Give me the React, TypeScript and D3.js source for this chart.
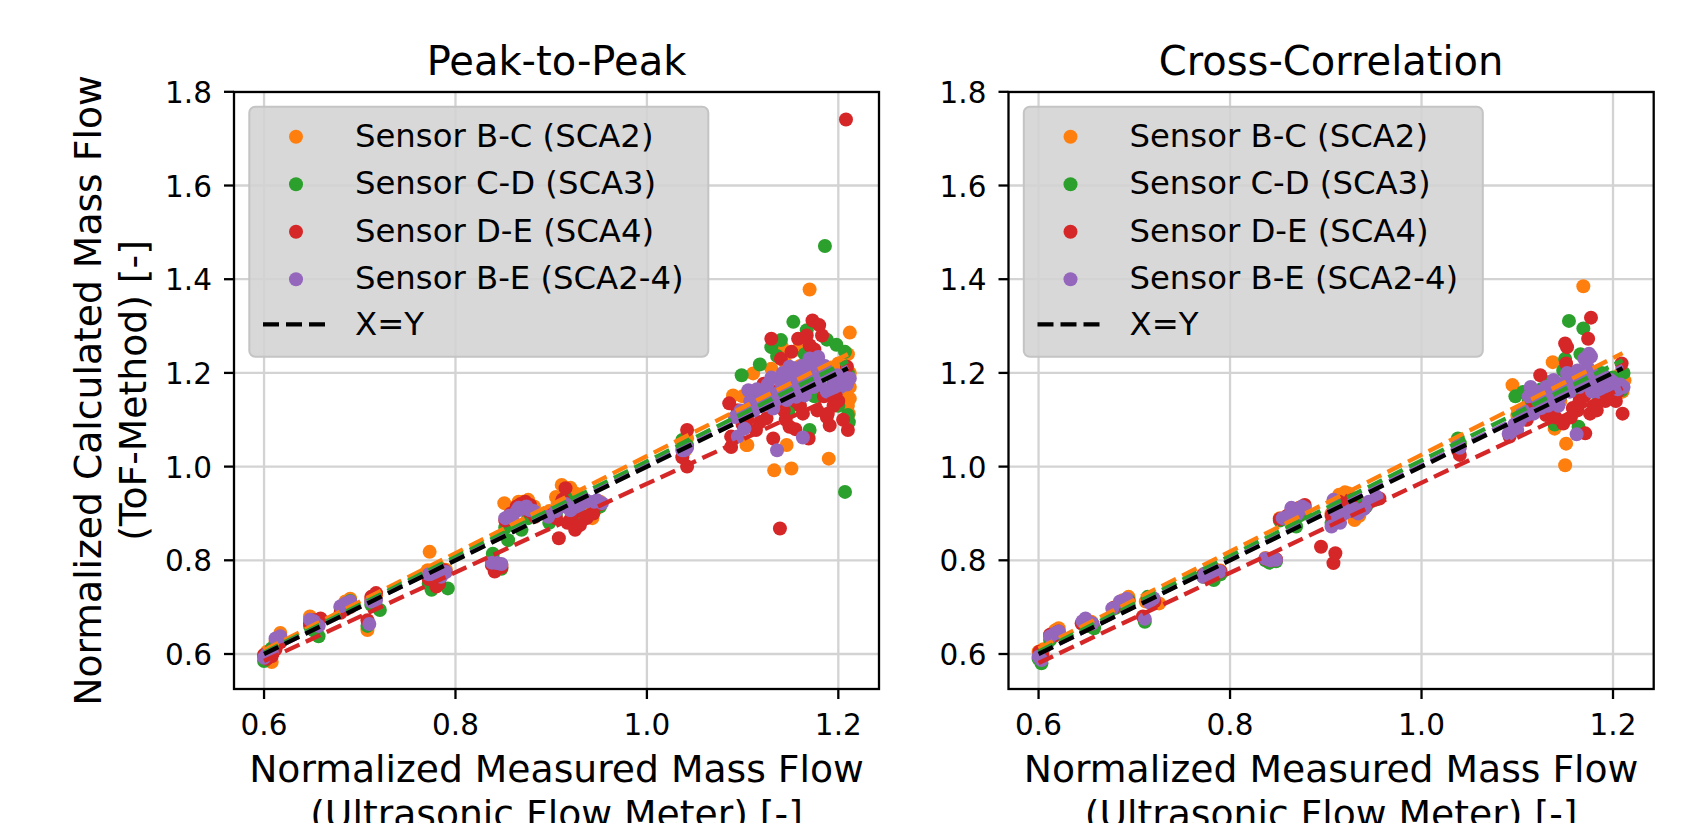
import React from 'react';
import * as d3 from 'd3';

type Pt = [number, number];

const SENSOR_LABELS = ['Sensor B-C (SCA2)', 'Sensor C-D (SCA3)', 'Sensor D-E (SCA4)', 'Sensor B-E (SCA2-4)'];
const SENSOR_COLORS = ['#ff7f0e', '#2ca02c', '#d62728', '#9467bd'];
const IDENTITY_LABEL = 'X=Y';
const PANEL_TITLES = ['Peak-to-Peak', 'Cross-Correlation'];
const X_LABEL = ['Normalized Measured Mass Flow', '(Ultrasonic Flow Meter) [-]'];
const Y_LABEL = ['Normalized Calculated Mass Flow', '(ToF-Method) [-]'];
const X_TICKS = [0.6, 0.8, 1.0, 1.2];
const Y_TICKS = [0.6, 0.8, 1.0, 1.2, 1.4, 1.6, 1.8];
const X_DOMAIN: [number, number] = [0.5686, 1.2425];
const Y_DOMAIN: [number, number] = [0.5253, 1.7996];
const FIT_RANGE: [number, number] = [0.6, 1.21];

// ---------- Peak-to-Peak ----------
const p2pSCA2: Pt[] = [
  [0.600, 0.598], [0.603, 0.605], [0.608, 0.583], [0.612, 0.628], [0.617, 0.645],
  [0.648, 0.680], [0.652, 0.668], [0.657, 0.662],
  [0.680, 0.700], [0.685, 0.712], [0.690, 0.718],
  [0.708, 0.651], [0.712, 0.715], [0.717, 0.725],
  [0.771, 0.779], [0.773, 0.818], [0.783, 0.785], [0.790, 0.780],
  [0.838, 0.800], [0.843, 0.795], [0.848, 0.790],
  [0.851, 0.922], [0.858, 0.905], [0.864, 0.915], [0.866, 0.925], [0.870, 0.925], [0.876, 0.929],
  [0.880, 0.910], [0.882, 0.915],
  [0.898, 0.905], [0.905, 0.935], [0.911, 0.961], [0.917, 0.950], [0.920, 0.955], [0.925, 0.943],
  [0.930, 0.935], [0.934, 0.930], [0.937, 0.920], [0.943, 0.890], [0.947, 0.910], [0.951, 0.925],
  [1.037, 1.045], [1.040, 1.035], [1.042, 1.060],
  [1.090, 1.152], [1.095, 1.120], [1.100, 1.150], [1.104, 1.046], [1.105, 1.046], [1.111, 1.199],
  [1.118, 1.142], [1.120, 1.160], [1.125, 1.175], [1.130, 1.209], [1.133, 0.992], [1.138, 1.150],
  [1.141, 1.256], [1.145, 1.220], [1.146, 1.046], [1.150, 1.150], [1.151, 0.996], [1.155, 1.190],
  [1.158, 1.250], [1.160, 1.215], [1.165, 1.170], [1.170, 1.378], [1.175, 1.200], [1.178, 1.230],
  [1.183, 1.160], [1.188, 1.205], [1.190, 1.017], [1.196, 1.174], [1.200, 1.220], [1.205, 1.195],
  [1.209, 1.163], [1.211, 1.113], [1.212, 1.286], [1.212, 1.145], [1.210, 1.240], [1.212, 1.200],
  [1.212, 1.170], [1.210, 1.130],
];
const p2pSCA3: Pt[] = [
  [0.600, 0.585], [0.603, 0.598], [0.608, 0.612], [0.612, 0.622], [0.617, 0.630],
  [0.648, 0.660], [0.652, 0.650], [0.657, 0.638],
  [0.680, 0.698], [0.685, 0.705], [0.690, 0.713],
  [0.708, 0.660], [0.712, 0.705], [0.721, 0.694],
  [0.772, 0.750], [0.775, 0.737], [0.783, 0.760], [0.792, 0.740],
  [0.839, 0.814], [0.843, 0.790], [0.848, 0.782],
  [0.852, 0.870], [0.855, 0.843], [0.864, 0.875], [0.869, 0.865], [0.876, 0.890], [0.882, 0.895],
  [0.898, 0.880], [0.905, 0.900], [0.911, 0.925], [0.917, 0.935], [0.923, 0.915], [0.930, 0.925],
  [0.934, 0.893], [0.944, 0.905], [0.951, 0.915],
  [1.037, 1.057], [1.040, 1.040], [1.042, 1.045],
  [1.099, 1.195], [1.100, 1.110], [1.108, 1.130], [1.115, 1.160], [1.118, 1.218], [1.125, 1.150],
  [1.130, 1.255], [1.136, 1.236], [1.140, 1.270], [1.142, 1.170], [1.148, 1.120], [1.150, 1.180],
  [1.153, 1.309], [1.160, 1.200], [1.165, 1.240], [1.167, 1.291], [1.170, 1.078], [1.175, 1.150],
  [1.180, 1.220], [1.185, 1.200], [1.186, 1.471], [1.188, 1.271], [1.195, 1.180], [1.198, 1.260],
  [1.200, 1.130], [1.207, 1.245], [1.207, 0.946], [1.211, 1.095], [1.210, 1.200], [1.210, 1.110],
];
const p2pSCA4: Pt[] = [
  [0.600, 0.598], [0.603, 0.590], [0.608, 0.595], [0.612, 0.610], [0.617, 0.625],
  [0.648, 0.665], [0.652, 0.672], [0.659, 0.676],
  [0.680, 0.688], [0.685, 0.695], [0.690, 0.700],
  [0.708, 0.672], [0.712, 0.722], [0.717, 0.730],
  [0.772, 0.760], [0.780, 0.744], [0.783, 0.750], [0.788, 0.779],
  [0.838, 0.790], [0.841, 0.776], [0.848, 0.785],
  [0.852, 0.885], [0.858, 0.900], [0.864, 0.915], [0.868, 0.920], [0.873, 0.925], [0.876, 0.905],
  [0.878, 0.918], [0.883, 0.893],
  [0.901, 0.897], [0.905, 0.890], [0.908, 0.847], [0.912, 0.930], [0.915, 0.954], [0.917, 0.880],
  [0.921, 0.890], [0.925, 0.865], [0.930, 0.875], [0.937, 0.890], [0.944, 0.900], [0.951, 0.920],
  [1.037, 1.020], [1.042, 1.000], [1.042, 1.078],
  [1.086, 1.135], [1.088, 1.042], [1.088, 1.064], [1.095, 1.120], [1.100, 1.090], [1.105, 1.100],
  [1.114, 1.078], [1.118, 1.095], [1.122, 1.177], [1.125, 1.103], [1.128, 1.140], [1.130, 1.273],
  [1.132, 1.060], [1.135, 1.160], [1.139, 0.868], [1.140, 1.230], [1.143, 1.120], [1.145, 1.100],
  [1.149, 1.085], [1.151, 1.245], [1.152, 1.160], [1.155, 1.140], [1.155, 1.080], [1.158, 1.273],
  [1.160, 1.130], [1.163, 1.113], [1.165, 1.200], [1.167, 1.280], [1.169, 1.060], [1.170, 1.259],
  [1.173, 1.312], [1.175, 1.250], [1.178, 1.120], [1.180, 1.302], [1.183, 1.280], [1.185, 1.150],
  [1.188, 1.106], [1.189, 1.113], [1.191, 1.088], [1.195, 1.130], [1.200, 1.140], [1.205, 1.100],
  [1.208, 1.741], [1.209, 1.213], [1.210, 1.078],
];
const p2pSCA24: Pt[] = [
  [0.600, 0.592], [0.603, 0.600], [0.608, 0.605], [0.612, 0.633], [0.617, 0.638],
  [0.648, 0.673], [0.652, 0.670], [0.657, 0.660],
  [0.680, 0.702], [0.685, 0.708], [0.690, 0.712],
  [0.710, 0.664], [0.712, 0.712], [0.717, 0.715],
  [0.772, 0.770], [0.778, 0.769], [0.785, 0.765], [0.790, 0.775],
  [0.838, 0.795], [0.843, 0.794], [0.848, 0.792],
  [0.852, 0.890], [0.856, 0.895], [0.859, 0.890], [0.864, 0.905], [0.866, 0.912], [0.870, 0.910],
  [0.874, 0.915], [0.878, 0.907], [0.882, 0.905],
  [0.897, 0.893], [0.905, 0.905], [0.911, 0.915], [0.915, 0.920], [0.920, 0.907], [0.925, 0.912],
  [0.930, 0.918], [0.935, 0.930], [0.939, 0.925], [0.945, 0.925], [0.948, 0.928], [0.953, 0.922],
  [1.037, 1.035], [1.039, 1.035], [1.042, 1.040],
  [1.092, 1.106], [1.095, 1.064], [1.098, 1.120], [1.102, 1.081], [1.106, 1.163], [1.108, 1.140],
  [1.112, 1.120], [1.115, 1.165], [1.118, 1.140], [1.120, 1.130], [1.123, 1.159], [1.126, 1.175],
  [1.128, 1.150], [1.130, 1.190], [1.132, 1.124], [1.134, 1.140], [1.136, 1.156], [1.136, 1.035],
  [1.140, 1.180], [1.142, 1.200], [1.144, 1.160], [1.146, 1.142], [1.149, 1.213], [1.150, 1.185],
  [1.152, 1.170], [1.154, 1.210], [1.156, 1.149], [1.158, 1.175], [1.160, 1.190], [1.162, 1.215],
  [1.163, 1.062], [1.165, 1.152], [1.166, 1.190], [1.168, 1.205], [1.170, 1.231], [1.172, 1.215],
  [1.174, 1.170], [1.176, 1.225], [1.177, 1.188], [1.179, 1.234], [1.181, 1.175], [1.184, 1.200],
  [1.186, 1.215], [1.188, 1.160], [1.191, 1.199], [1.193, 1.165], [1.196, 1.180], [1.199, 1.195],
  [1.202, 1.170], [1.204, 1.180], [1.207, 1.190], [1.209, 1.175], [1.212, 1.188],
];
// linear fits [slope, intercept]
const p2pFits: Pt[] = [[1.036, -0.0136], [1.0197, -0.0088], [0.946, 0.0174], [1.005, -0.003]];

// ---------- Cross-Correlation ----------
const ccSCA2: Pt[] = [
  [0.600, 0.605], [0.605, 0.610], [0.612, 0.640], [0.617, 0.650], [0.621, 0.655],
  [0.648, 0.670], [0.652, 0.668], [0.655, 0.669],
  [0.680, 0.700], [0.688, 0.715], [0.694, 0.722],
  [0.712, 0.712], [0.720, 0.715], [0.726, 0.708],
  [0.772, 0.770], [0.778, 0.775], [0.785, 0.780], [0.790, 0.778],
  [0.837, 0.805], [0.843, 0.800], [0.848, 0.802],
  [0.852, 0.890], [0.860, 0.895], [0.867, 0.905], [0.872, 0.912], [0.878, 0.910],
  [0.906, 0.900], [0.914, 0.940], [0.918, 0.935], [0.920, 0.945], [0.923, 0.943], [0.930, 0.886],
  [0.935, 0.895], [0.936, 0.905], [0.942, 0.920], [0.953, 0.932],
  [1.038, 1.052], [1.040, 1.045],
  [1.095, 1.174], [1.100, 1.110], [1.108, 1.120], [1.115, 1.135], [1.122, 1.150], [1.128, 1.140],
  [1.130, 1.160], [1.137, 1.223], [1.139, 1.081], [1.142, 1.165], [1.145, 1.140], [1.150, 1.003],
  [1.151, 1.049], [1.155, 1.170], [1.160, 1.180], [1.162, 1.200], [1.165, 1.150], [1.169, 1.385],
  [1.172, 1.160], [1.175, 1.200], [1.182, 1.170], [1.185, 1.190], [1.190, 1.190], [1.195, 1.150],
  [1.198, 1.160], [1.205, 1.190], [1.208, 1.200], [1.212, 1.184], [1.210, 1.160],
];
const ccSCA3: Pt[] = [
  [0.600, 0.590], [0.603, 0.580], [0.612, 0.630], [0.617, 0.640], [0.621, 0.645],
  [0.648, 0.665], [0.652, 0.660], [0.658, 0.655],
  [0.680, 0.698], [0.688, 0.710], [0.694, 0.715],
  [0.711, 0.669], [0.714, 0.722], [0.720, 0.712],
  [0.772, 0.765], [0.778, 0.768], [0.783, 0.758], [0.790, 0.770],
  [0.837, 0.800], [0.841, 0.795], [0.848, 0.798],
  [0.852, 0.885], [0.860, 0.888], [0.869, 0.872], [0.872, 0.895], [0.878, 0.900],
  [0.906, 0.880], [0.914, 0.910], [0.918, 0.915], [0.923, 0.905], [0.930, 0.912], [0.936, 0.918],
  [0.942, 0.915], [0.953, 0.930],
  [1.038, 1.060], [1.040, 1.050],
  [1.098, 1.150], [1.106, 1.159], [1.108, 1.120], [1.112, 1.140], [1.118, 1.125], [1.125, 1.165],
  [1.132, 1.180], [1.135, 1.160], [1.139, 1.090], [1.145, 1.150], [1.148, 1.205], [1.150, 1.230],
  [1.154, 1.311], [1.158, 1.200], [1.162, 1.160], [1.164, 1.085], [1.166, 1.240], [1.169, 1.295],
  [1.172, 1.200], [1.175, 1.170], [1.178, 1.190], [1.185, 1.150], [1.188, 1.200], [1.192, 1.175],
  [1.200, 1.190], [1.205, 1.180], [1.209, 1.163], [1.211, 1.200],
];
const ccSCA4: Pt[] = [
  [0.601, 0.605], [0.604, 0.598], [0.612, 0.641], [0.617, 0.640], [0.621, 0.648],
  [0.645, 0.665], [0.650, 0.670], [0.656, 0.665],
  [0.678, 0.698], [0.686, 0.708], [0.694, 0.712],
  [0.709, 0.680], [0.714, 0.718], [0.721, 0.712],
  [0.772, 0.768], [0.778, 0.772], [0.784, 0.770], [0.790, 0.776],
  [0.837, 0.803], [0.843, 0.800], [0.848, 0.802],
  [0.852, 0.888], [0.860, 0.895], [0.866, 0.910], [0.872, 0.905], [0.878, 0.918],
  [0.895, 0.829], [0.908, 0.794], [0.910, 0.815],
  [0.906, 0.895], [0.914, 0.925], [0.920, 0.910], [0.926, 0.930], [0.933, 0.905], [0.940, 0.912],
  [0.956, 0.932],
  [1.038, 1.035], [1.040, 1.025],
  [1.092, 1.064], [1.096, 1.080], [1.105, 1.100], [1.110, 1.100], [1.112, 1.120], [1.118, 1.140],
  [1.124, 1.195], [1.126, 1.125], [1.130, 1.110], [1.136, 1.130], [1.140, 1.105], [1.142, 1.150],
  [1.148, 1.092], [1.150, 1.263], [1.152, 1.255], [1.151, 1.220], [1.156, 1.105], [1.158, 1.125],
  [1.163, 1.120], [1.165, 1.140], [1.170, 1.150], [1.171, 1.071], [1.174, 1.273], [1.176, 1.113],
  [1.177, 1.318], [1.180, 1.130], [1.183, 1.120], [1.186, 1.150], [1.192, 1.140], [1.196, 1.150],
  [1.200, 1.150], [1.203, 1.140], [1.205, 1.160], [1.209, 1.220], [1.210, 1.113],
];
const ccSCA24: Pt[] = [
  [0.600, 0.594], [0.603, 0.587], [0.612, 0.638], [0.617, 0.644], [0.621, 0.648],
  [0.646, 0.670], [0.649, 0.676], [0.656, 0.665],
  [0.677, 0.697], [0.685, 0.712], [0.692, 0.718],
  [0.711, 0.675], [0.716, 0.710], [0.720, 0.719],
  [0.772, 0.765], [0.774, 0.772], [0.782, 0.770], [0.789, 0.776],
  [0.837, 0.804], [0.842, 0.800], [0.848, 0.801],
  [0.855, 0.890], [0.860, 0.893], [0.864, 0.912], [0.867, 0.907], [0.870, 0.898], [0.872, 0.905],
  [0.875, 0.915], [0.878, 0.911],
  [0.906, 0.872], [0.908, 0.929], [0.910, 0.905], [0.913, 0.890], [0.915, 0.880], [0.919, 0.900],
  [0.925, 0.905], [0.930, 0.910], [0.934, 0.900], [0.940, 0.910], [0.945, 0.925], [0.953, 0.936],
  [1.038, 1.046], [1.040, 1.040],
  [1.091, 1.070], [1.094, 1.075], [1.097, 1.090], [1.100, 1.078], [1.103, 1.099], [1.106, 1.120],
  [1.110, 1.110], [1.112, 1.150], [1.114, 1.170], [1.117, 1.113], [1.120, 1.160], [1.122, 1.140],
  [1.125, 1.125], [1.127, 1.150], [1.130, 1.170], [1.132, 1.130], [1.134, 1.145], [1.136, 1.160],
  [1.138, 1.185], [1.140, 1.170], [1.143, 1.130], [1.145, 1.150], [1.148, 1.165], [1.150, 1.180],
  [1.152, 1.200], [1.155, 1.160], [1.158, 1.175], [1.160, 1.190], [1.162, 1.069], [1.163, 1.205],
  [1.165, 1.170], [1.168, 1.190], [1.170, 1.230], [1.172, 1.180], [1.174, 1.210], [1.175, 1.241],
  [1.177, 1.235], [1.178, 1.160], [1.180, 1.195], [1.182, 1.180], [1.185, 1.160], [1.188, 1.175],
  [1.190, 1.190], [1.195, 1.170], [1.197, 1.185], [1.200, 1.180], [1.203, 1.175], [1.205, 1.165],
  [1.208, 1.175], [1.211, 1.170],
];
const ccFits: Pt[] = [[1.033, -0.0078], [1.0197, -0.0068], [0.962, 0.0036], [1.008, -0.005]];

const FONT = "'DejaVu Sans', sans-serif";
const W = 1691;
const H = 823;

interface PanelProps {
  left: number; right: number; top: number; bottom: number;
  title: string; series: Pt[][]; fits: Pt[]; showYLabel: boolean; clipId: string;
}

function Panel({ left, right, top, bottom, title, series, fits, showYLabel, clipId }: PanelProps) {
  const x = d3.scaleLinear().domain(X_DOMAIN).range([left, right]);
  const y = d3.scaleLinear().domain(Y_DOMAIN).range([bottom, top]);
  const line = d3.line<Pt>().x(d => x(d[0])).y(d => y(d[1]));
  const fmt = d3.format('.1f');
  const cx = (left + right) / 2;
  const cy = (top + bottom) / 2;
  const lw = 4.35;
  const dash = '16,7';
  const axisW = 2.3;
  const tickLen = 10;

  const lgX = left + 15.3;
  const lgY = top + 14.7;
  const rowY = [44.7, 92.2, 139.7, 187.2, 232.3].map(v => top + v);

  return (
    <g>
      <defs>
        <clipPath id={clipId}>
          <rect x={left} y={top} width={right - left} height={bottom - top} />
        </clipPath>
      </defs>
      {/* grid */}
      <g stroke="#d3d3d3" strokeWidth={2.3}>
        {X_TICKS.map(t => <line key={'gx' + t} x1={x(t)} x2={x(t)} y1={top} y2={bottom} />)}
        {Y_TICKS.map(t => <line key={'gy' + t} x1={left} x2={right} y1={y(t)} y2={y(t)} />)}
      </g>
      <g clipPath={`url(#${clipId})`}>
        {series.map((pts, si) => (
          <g key={'s' + si} fill={SENSOR_COLORS[si]}>
            {pts.map((p, i) => <circle key={i} cx={x(p[0])} cy={y(p[1])} r={7} />)}
          </g>
        ))}
        {fits.map((f, i) => {
          const pts: Pt[] = FIT_RANGE.map(v => [v, f[0] * v + f[1]] as Pt);
          return <path key={'f' + i} d={line(pts) || ''} fill="none" stroke={SENSOR_COLORS[i]} strokeWidth={lw} strokeDasharray={dash} />;
        })}
        <path d={line(FIT_RANGE.map(v => [v, v] as Pt)) || ''} fill="none" stroke="#000" strokeWidth={lw} strokeDasharray={dash} />
      </g>
      {/* spines */}
      <rect x={left} y={top} width={right - left} height={bottom - top} fill="none" stroke="#000" strokeWidth={axisW} />
      {/* ticks */}
      <g stroke="#000" strokeWidth={axisW}>
        {X_TICKS.map(t => <line key={'tx' + t} x1={x(t)} x2={x(t)} y1={bottom} y2={bottom + tickLen} />)}
        {Y_TICKS.map(t => <line key={'ty' + t} x1={left - tickLen} x2={left} y1={y(t)} y2={y(t)} />)}
      </g>
      <g fontFamily={FONT} fontSize={29.5} fill="#000">
        {X_TICKS.map(t => <text key={'lx' + t} x={x(t)} y={735} textAnchor="middle">{fmt(t)}</text>)}
        {Y_TICKS.map(t => <text key={'ly' + t} x={left - 22} y={y(t) + 11} textAnchor="end">{fmt(t)}</text>)}
      </g>
      {/* legend */}
      <g>
        <rect x={lgX} y={lgY} width={459} height={250} rx={6} ry={6} fill="#d3d3d3" fillOpacity={0.88} stroke="#c4c4c4" strokeWidth={2} />
        {SENSOR_LABELS.map((lab, i) => (
          <g key={'lg' + i}>
            <circle cx={left + 62} cy={rowY[i]} r={7} fill={SENSOR_COLORS[i]} />
            <text x={left + 121} y={rowY[i] + 10} fontFamily={FONT} fontSize={32.3} fill="#000">{lab}</text>
          </g>
        ))}
        <line x1={left + 29} x2={left + 94} y1={rowY[4]} y2={rowY[4]} stroke="#000" strokeWidth={lw} strokeDasharray={dash} />
        <text x={left + 121} y={rowY[4] + 11} fontFamily={FONT} fontSize={32.3} fill="#000">{IDENTITY_LABEL}</text>
      </g>
      <text x={cx} y={75} textAnchor="middle" fontFamily={FONT} fontSize={40} fill="#000">{title}</text>
      <g fontFamily={FONT} fontSize={37.7} fill="#000" textAnchor="middle">
        <text x={cx} y={782}>{X_LABEL[0]}</text>
        <text x={cx} y={827}>{X_LABEL[1]}</text>
      </g>
      {showYLabel && (
        <g fontFamily={FONT} fontSize={37.7} fill="#000" textAnchor="middle">
          <text transform={`translate(101,${cy}) rotate(-90)`}>{Y_LABEL[0]}</text>
          <text transform={`translate(146,${cy}) rotate(-90)`}>{Y_LABEL[1]}</text>
        </g>
      )}
    </g>
  );
}

export default function App() {
  return (
    <svg width={W} height={H} viewBox={`0 0 ${W} ${H}`} style={{ position: 'absolute', left: 0, top: 0, background: '#fff' }}>
      <rect x={0} y={0} width={W} height={H} fill="#fff" />
      <Panel left={234} right={879} top={92} bottom={689} title={PANEL_TITLES[0]}
        series={[p2pSCA2, p2pSCA3, p2pSCA4, p2pSCA24]} fits={p2pFits} showYLabel={true} clipId="clipA" />
      <Panel left={1008.5} right={1653.7} top={92} bottom={689} title={PANEL_TITLES[1]}
        series={[ccSCA2, ccSCA3, ccSCA4, ccSCA24]} fits={ccFits} showYLabel={false} clipId="clipB" />
    </svg>
  );
}
